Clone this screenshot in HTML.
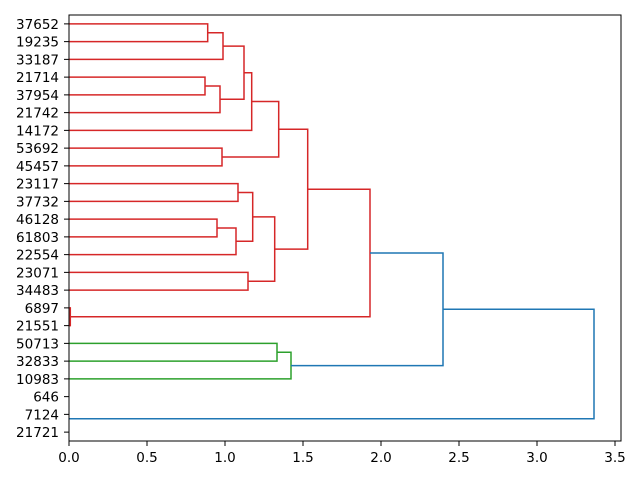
<!DOCTYPE html>
<html><head><style>body{margin:0;background:#fff}svg{display:block}text{font-family:"DejaVu Sans","Liberation Sans",sans-serif;font-size:13.5px;fill:#000}</style></head><body>
<svg width="640" height="480" viewBox="0 0 640 480">
<g fill="none" stroke-width="1.5">
<g stroke="#d62728">
<path d="M69,23.9H207.7V41.6H69"/>
<path d="M207.7,32.8H223V59.4H69"/>
<path d="M69,77.1H205V94.9H69"/>
<path d="M205,86H220V112.6H69"/>
<path d="M223,46.1H244V99.3H220"/>
<path d="M244,72.7H251.7V130.4H69"/>
<path d="M69,148.1H222V165.9H69"/>
<path d="M251.7,101.5H278.7V157H222"/>
<path d="M69,183.6H238V201.4H69"/>
<path d="M69,219.1H217V236.9H69"/>
<path d="M217,228H236V254.6H69"/>
<path d="M238,192.5H252.7V241.3H236"/>
<path d="M69,272.4H248V290.1H69"/>
<path d="M252.7,216.9H274.7V281.3H248"/>
<path d="M278.7,129.3H307.7V249.1H274.7"/>
<path d="M69,307.9H70.3V325.6H69"/>
<path d="M307.7,189.2H370V316.8H70.3"/>
</g>
<g stroke="#2ca02c">
<path d="M69,343.4H277V361.1H69"/>
<path d="M277,352.3H291V378.9H69"/>
</g>
<g stroke="#1f77b4">
<path d="M370,253H443V365.6H291"/>
<path d="M443,309.3H594V418.8H69"/>
</g>
</g>
<rect x="69" y="15" width="552" height="426" fill="none" stroke="#000" stroke-width="1"/>
<g stroke="#000" stroke-width="1">
<path d="M69,441v5M147,441v5M225,441v5M303,441v5M381,441v5M459,441v5M537,441v5M615,441v5"/>
<path d="M69,23.9h-5M69,41.6h-5M69,59.4h-5M69,77.1h-5M69,94.9h-5M69,112.6h-5M69,130.4h-5M69,148.1h-5M69,165.9h-5M69,183.6h-5M69,201.4h-5M69,219.1h-5M69,236.9h-5M69,254.6h-5M69,272.4h-5M69,290.1h-5M69,307.9h-5M69,325.6h-5M69,343.4h-5M69,361.1h-5M69,378.9h-5M69,396.6h-5M69,414.4h-5M69,432.1h-5"/>
</g>
<g text-anchor="middle">
<text x="69" y="462">0.0</text><text x="147" y="462">0.5</text><text x="225" y="462">1.0</text><text x="303" y="462">1.5</text><text x="381" y="462">2.0</text><text x="459" y="462">2.5</text><text x="537" y="462">3.0</text><text x="615" y="462">3.5</text>
</g>
<g text-anchor="end">
<text x="59" y="29">37652</text><text x="59" y="46.7">19235</text><text x="59" y="64.5">33187</text><text x="59" y="82.2">21714</text><text x="59" y="100">37954</text><text x="59" y="117.7">21742</text><text x="59" y="135.5">14172</text><text x="59" y="153.2">53692</text><text x="59" y="171">45457</text><text x="59" y="188.7">23117</text><text x="59" y="206.5">37732</text><text x="59" y="224.2">46128</text><text x="59" y="242">61803</text><text x="59" y="259.7">22554</text><text x="59" y="277.5">23071</text><text x="59" y="295.2">34483</text><text x="59" y="313">6897</text><text x="59" y="330.7">21551</text><text x="59" y="348.5">50713</text><text x="59" y="366.2">32833</text><text x="59" y="384">10983</text><text x="59" y="401.7">646</text><text x="59" y="419.5">7124</text><text x="59" y="437.2">21721</text>
</g>
</svg>
</body></html>
